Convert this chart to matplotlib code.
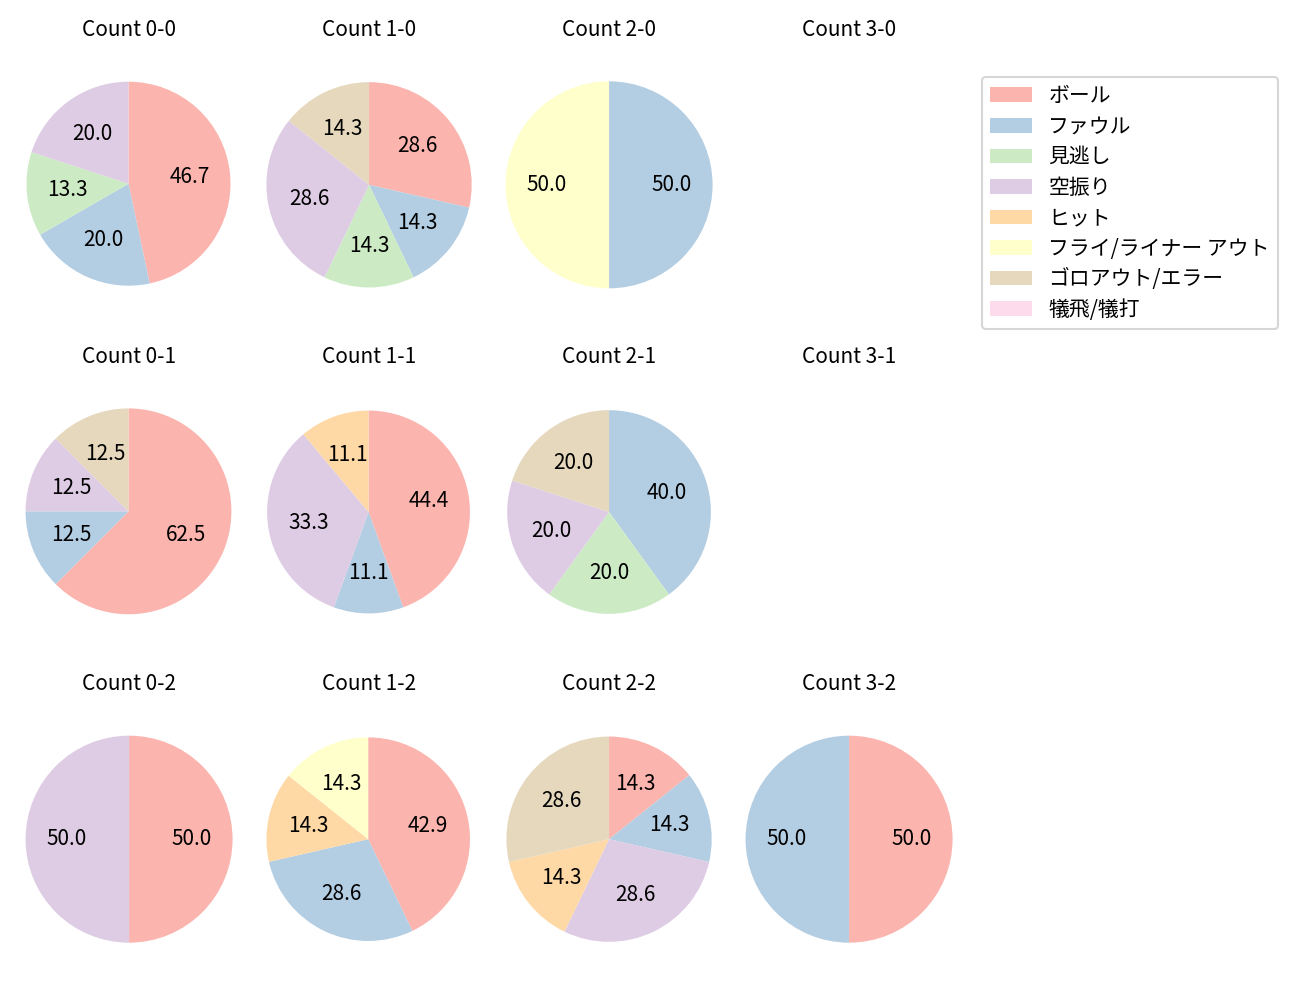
#pie charts of pitch results for each ball-strike count
import numpy as np
import matplotlib
matplotlib.use("Agg")
from matplotlib import pyplot as plt
from matplotlib.patches import Patch

plt.rcParams['font.family'] = ['Noto Sans CJK JP', 'DejaVu Sans']
plt.rcParams['font.size'] = 10

results = ['ボール', 'ファウル', '見逃し', '空振り', 'ヒット',
           'フライ/ライナー アウト', 'ゴロアウト/エラー', '犠飛/犠打']
colors = plt.cm.Pastel1.colors[:8]

balls = [0, 1, 2, 3]
strikes = [0, 1, 2]

# number of pitches per result, one list per count (balls-strikes)
count_0_0 = [7, 3, 2, 3, 0, 0, 0, 0]
count_1_0 = [2, 1, 1, 2, 0, 0, 1, 0]
count_2_0 = [0, 1, 0, 0, 0, 1, 0, 0]
count_3_0 = [0, 0, 0, 0, 0, 0, 0, 0]
count_0_1 = [5, 1, 0, 1, 0, 0, 1, 0]
count_1_1 = [4, 1, 0, 3, 1, 0, 0, 0]
count_2_1 = [0, 2, 1, 1, 0, 0, 1, 0]
count_3_1 = [0, 0, 0, 0, 0, 0, 0, 0]
count_0_2 = [1, 0, 0, 1, 0, 0, 0, 0]
count_1_2 = [3, 2, 0, 0, 1, 1, 0, 0]
count_2_2 = [1, 1, 0, 2, 1, 0, 2, 0]
count_3_2 = [1, 1, 0, 0, 0, 0, 0, 0]

counts = {
    (0, 0): count_0_0, (1, 0): count_1_0, (2, 0): count_2_0, (3, 0): count_3_0,
    (0, 1): count_0_1, (1, 1): count_1_1, (2, 1): count_2_1, (3, 1): count_3_1,
    (0, 2): count_0_2, (1, 2): count_1_2, (2, 2): count_2_2, (3, 2): count_3_2,
}

fig, axes = plt.subplots(3, 4, figsize=(1300/150, 1000/150), dpi=150)
fig.subplots_adjust(left=0.0117, right=0.7407, top=0.9515, bottom=0.0245,
                    wspace=0.054, hspace=0.2)

for s in strikes:
    for b in balls:
        ax = axes[s, b]
        ax.set_title('Count {}-{}'.format(b, s), fontsize=10)
        vals = np.array(counts[(b, s)])
        if vals.sum() == 0:
            ax.axis('off')
            continue
        keep = vals > 0
        cols = [c for c, k in zip(colors, keep) if k]
        wedges, texts, pcts = ax.pie(vals[keep], colors=cols, startangle=90,
                                     counterclock=False, autopct='%.1f',
                                     pctdistance=0.6)
        # autoscale from wedge path vertices (bezier control points included)
        v = np.vstack([w.get_path().vertices for w in wedges])
        x0, y0 = v.min(axis=0)
        x1, y1 = v.max(axis=0)
        ax.set_xlim(x0 - 0.05*(x1 - x0), x1 + 0.05*(x1 - x0))
        ax.set_ylim(y0 - 0.05*(y1 - y0), y1 + 0.05*(y1 - y0))
        ax.set_aspect('equal', adjustable='datalim')
        ax.axis('off')

handles = [Patch(facecolor=c) for c in colors]
fig.legend(handles, results, loc='upper left', bbox_to_anchor=(981.7/1300, 1 - 76.7/1000),
           borderaxespad=0, fontsize=10, labelspacing=0.41)

fig.savefig('out.png', dpi=150)
